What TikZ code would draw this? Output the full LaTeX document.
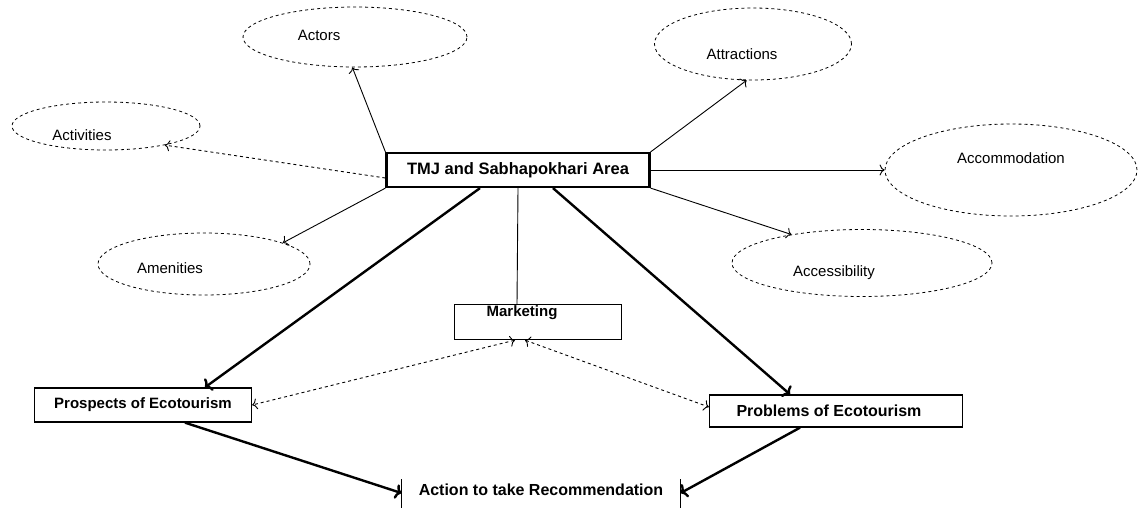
\documentclass[tikz,border=0pt]{standalone}
\usepackage{fontspec}
\setmainfont{Liberation Sans}
\usetikzlibrary{arrows.meta,shapes.geometric}

\begin{document}
\begin{tikzpicture}[x=1pt, y=-1pt,
    factor/.style={ellipse, draw, dashed, line width=0.8pt, inner sep=0pt},
    block/.style={rectangle, draw, line width=1.3pt, inner sep=0pt, font=\fontsize{15}{17}\selectfont\bfseries},
    thinarrow/.style={line width=0.9pt, -{To[length=5pt,width=11pt]}},
    dashlink/.style={line width=0.9pt, dashed, -{To[length=5pt,width=11pt]}},
    twoway/.style={line width=0.9pt, dashed, {To[length=5pt,width=11pt]}-{To[length=5pt,width=11pt]}},
    plain/.style={line width=0.9pt},
    heavyarrow/.style={line width=2.4pt, -{To[length=6pt,width=15pt]}}]
    \useasboundingbox (0,0) rectangle (1139,507);

    % the six factors round the area
    \foreach \name/\cx/\cy/\w/\h/\dx/\dy/\txt in {
      actors/355/37/224/60/-36/2/Actors, activities/106/126/188/48/-24/-9/Activities,
      attractions/753/44/197/72/-11/-10/Attractions, accommodation/1011/170/252/92/0/12/Accommodation,
      amenities/204/264/212/62/-34/-4/Amenities, accessibility/862/263/260/67/-28/-10/Accessibility}
      \node[factor, minimum width=\w pt, minimum height=\h pt,
        label={[xshift=\dx pt, yshift=\dy pt, font=\fontsize{15}{17}\selectfont]center:\txt}] (\name) at (\cx,\cy) {};

    \node[block, line width=2.2pt, minimum width=263pt, minimum height=34pt, font=\fontsize{16.5}{18}\selectfont\bfseries] (tmj) at (518,170) {TMJ and Sabhapokhari Area};
    \node[block, minimum width=167pt, minimum height=35pt,
      label={[xshift=-16pt, yshift=9pt, font=\fontsize{15}{17}\selectfont\bfseries]center:Marketing}] (marketing) at (538,322) {};
    \node[block, minimum width=217pt, minimum height=34pt] (prospects) at (143,405) {Prospects of Ecotourism};
    \node[block, minimum width=253pt, minimum height=32pt, font=\fontsize{16}{18}\selectfont\bfseries] (problems) at (836,411) {Problems of Ecotourism\hspace*{14pt}};
    \node[block, draw=none, minimum width=278pt, minimum height=20pt, font=\fontsize{16}{18}\selectfont\bfseries] (action) at (541,490) {Action to take Recommendation};
    \draw[line width=1.5pt] (action.north west) -- ++(0,30);
    \draw[line width=1.5pt] (action.north east) -- ++(0,30);

    \foreach \from/\to/\kind in {
      (tmj.north west)/(actors.265)/thinarrow, ([yshift=-8pt]tmj.west)/(activities.-18)/dashlink,
      (tmj.south west)/(amenities.15)/thinarrow, (tmj.north east)/(attractions.260)/thinarrow,
      (tmj.east)/(accommodation.west)/thinarrow, (tmj.south east)/(accessibility.158)/thinarrow,
      ([xshift=-38pt]tmj.south)/([xshift=62pt]prospects.north)/heavyarrow,
      (tmj.south)/([xshift=-21pt]marketing.north)/plain,
      ([xshift=35pt]tmj.south)/([xshift=-46pt]problems.north)/heavyarrow,
      ([xshift=-23pt]marketing.south)/(prospects.east)/twoway,
      ([xshift=-13pt]marketing.south)/([yshift=4pt]problems.west)/twoway,
      ([xshift=42pt]prospects.south)/([yshift=-3pt]action.west)/heavyarrow,
      ([xshift=-36pt]problems.south)/([yshift=-3pt]action.east)/heavyarrow}
      \draw[\kind] \from -- \to;
\end{tikzpicture}
\end{document}
